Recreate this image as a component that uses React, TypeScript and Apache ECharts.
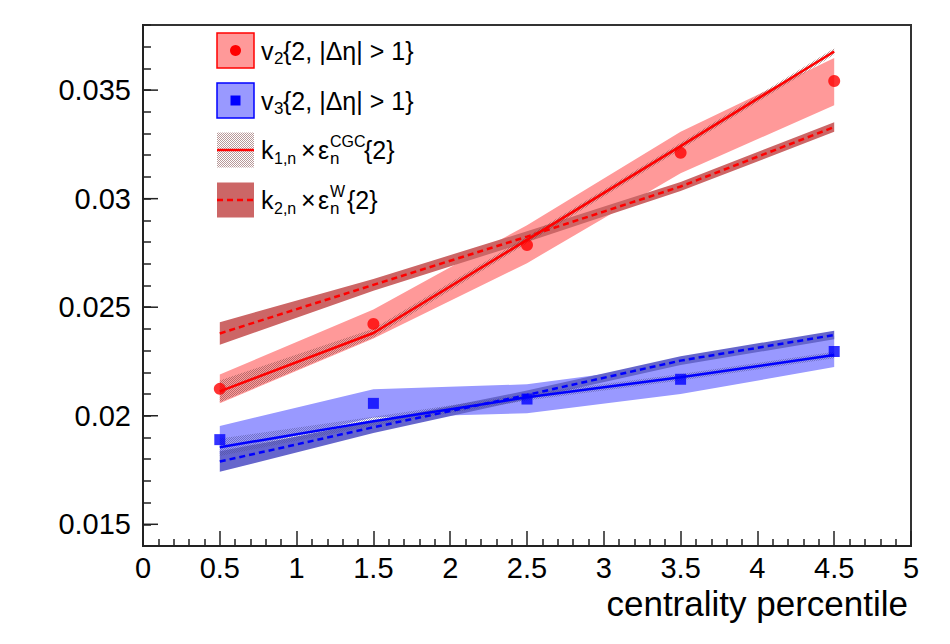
import React, { useEffect, useRef } from "react";
import * as echarts from "echarts";

// ---------- data ----------
const xs = [0.5, 1.5, 2.5, 3.5, 4.5];

// v2{2, |Δη| > 1}
const v2 = [0.02124, 0.02423, 0.02786, 0.03211, 0.03542];
const v2Low = [0.02058, 0.02356, 0.02703, 0.03117, 0.0343];
const v2High = [0.0219, 0.0249, 0.02878, 0.03308, 0.03648];
// v3{2, |Δη| > 1}
const v3 = [0.0189, 0.02057, 0.02077, 0.02168, 0.02296];
const v3Low = [0.01827, 0.01992, 0.02011, 0.021, 0.02224];
const v3High = [0.01953, 0.02122, 0.02145, 0.02238, 0.02368];

// k1,n × ε_n^CGC{2}
const cgc2 = [0.02112, 0.02381, 0.0281, 0.03242, 0.03678];
const cgc2Low = [0.02062, 0.02361, 0.02795, 0.03227, 0.03663];
const cgc2High = [0.02162, 0.02401, 0.02825, 0.03257, 0.03693];
const cgc3 = [0.01855, 0.01975, 0.02085, 0.02177, 0.0228];
const cgc3Low = [0.01815, 0.01955, 0.0207, 0.02162, 0.02265];
const cgc3High = [0.01895, 0.01995, 0.021, 0.02192, 0.02295];

// k2,n × ε_n^W{2}
const w2 = [0.02379, 0.02603, 0.02825, 0.03056, 0.0333];
const w2Low = [0.02327, 0.02576, 0.028, 0.03035, 0.03308];
const w2High = [0.02431, 0.0263, 0.0285, 0.03077, 0.03352];
const w3 = [0.01789, 0.01947, 0.02096, 0.02254, 0.02372];
const w3Low = [0.01742, 0.0192, 0.02076, 0.02234, 0.02352];
const w3High = [0.01836, 0.01974, 0.02116, 0.02274, 0.02392];

const xTickLabels = ["0", "0.5", "1", "1.5", "2", "2.5", "3", "3.5", "4", "4.5", "5"];
const yTickLabels = ["0.015", "0.02", "0.025", "0.03", "0.035"];
const yMajor = [0.015, 0.02, 0.025, 0.03, 0.035];

const FONT = '"Liberation Sans", Arial, Helvetica, sans-serif';

function makePattern(color: string) {
  const c = document.createElement("canvas");
  c.width = 2;
  c.height = 2;
  const ctx = c.getContext("2d")!;
  ctx.fillStyle = color;
  ctx.fillRect(0, 0, 1, 1);
  ctx.fillRect(1, 1, 1, 1);
  return c;
}

function bandSeries(lo: number[], hi: number[], fill: any, z: number) {
  return {
    type: "custom",
    silent: true,
    z,
    clip: true,
    data: xs.map((x, i) => [x, lo[i], hi[i]]),
    encode: { x: 0, y: [1, 2] },
    renderItem: (params: any, api: any) => {
      if (params.dataIndex !== 0) return null;
      const upper = xs.map((x, i) => api.coord([x, hi[i]]));
      const lower = xs.map((x, i) => api.coord([x, lo[i]])).reverse();
      return {
        type: "polygon",
        shape: { points: upper.concat(lower) },
        style: { fill },
      };
    },
  };
}

function lineSeries(vals: number[], color: string, dashed: boolean, z: number) {
  return {
    type: "line",
    silent: true,
    z,
    symbol: "none",
    data: xs.map((x, i) => [x, vals[i]]),
    lineStyle: { color, width: 2.5, type: dashed ? [6, 4] : "solid" },
  };
}

function txt(text: string, x: number, y: number, size: number) {
  return {
    type: "text",
    x,
    y,
    style: {
      text,
      fill: "#000",
      font: `${size}px ${FONT}`,
      align: "left",
      verticalAlign: "middle",
    },
  };
}

export default function App() {
  const ref = useRef<HTMLDivElement>(null);
  useEffect(() => {
    if (!ref.current) return;
    const chart = echarts.init(ref.current, null, { renderer: "svg" });
    const hatchRed = { image: makePattern("rgba(125,70,70,0.55)"), repeat: "repeat" };
    const hatchBlue = { image: makePattern("rgba(80,80,150,0.55)"), repeat: "repeat" };

    const legendX = 217;
    const boxW = 37;
    const boxH = 35;
    const rows = [50.5, 100.5, 150, 200];

    const graphic: any[] = [
      // legend boxes
      { type: "rect", shape: { x: legendX, y: rows[0] - boxH / 2, width: boxW, height: boxH }, style: { fill: "#ff9999", stroke: "#ff0000", lineWidth: 1.5 } },
      { type: "circle", shape: { cx: legendX + boxW / 2, cy: rows[0], r: 5.5 }, style: { fill: "#ff0000" } },
      { type: "rect", shape: { x: legendX, y: rows[1] - boxH / 2, width: boxW, height: boxH }, style: { fill: "#9999ff", stroke: "#0000ff", lineWidth: 1.5 } },
      { type: "rect", shape: { x: legendX + boxW / 2 - 5, y: rows[1] - 5, width: 10, height: 10 }, style: { fill: "#0000ff" } },
      { type: "rect", shape: { x: legendX, y: rows[2] - boxH / 2, width: boxW, height: boxH }, style: { fill: hatchRed } },
      { type: "line", shape: { x1: legendX, y1: rows[2], x2: legendX + boxW, y2: rows[2] }, style: { stroke: "#ff0000", lineWidth: 2.5 } },
      { type: "rect", shape: { x: legendX, y: rows[3] - boxH / 2, width: boxW, height: boxH }, style: { fill: "#cc6666" } },
      { type: "line", shape: { x1: legendX, y1: rows[3], x2: legendX + boxW, y2: rows[3] }, style: { stroke: "#ff0000", lineWidth: 2.5, lineDash: [6, 4] } },
      // legend texts
      txt("v", 261, rows[0], 25),
      txt("2", 274, rows[0] + 8, 17),
      txt("{2, |Δη| > 1}", 283, rows[0], 25),
      txt("v", 261, rows[1], 25),
      txt("3", 274, rows[1] + 8, 17),
      txt("{2, |Δη| > 1}", 283, rows[1], 25),
      txt("k", 261, rows[2], 25),
      txt("1,n", 274, rows[2] + 8, 16),
      txt("×", 301, rows[2], 25),
      txt("ε", 318, rows[2], 25),
      txt("n", 330, rows[2] + 8, 17),
      txt("CGC", 330, rows[2] - 9, 16),
      txt("{2}", 364, rows[2], 25),
      txt("k", 261, rows[3], 25),
      txt("2,n", 274, rows[3] + 8, 16),
      txt("×", 301, rows[3], 25),
      txt("ε", 318, rows[3], 25),
      txt("n", 330, rows[3] + 8, 17),
      txt("W", 330, rows[3] - 9, 16),
      txt("{2}", 347, rows[3], 25),
      // axis title
      {
        type: "text",
        x: 908,
        y: 603,
        style: { text: "centrality percentile", fill: "#000", font: `35px ${FONT}`, align: "right", verticalAlign: "middle" },
      },
    ];

    chart.setOption({
      animation: false,
      grid: { left: 143, right: 39, top: 25, bottom: 98, show: true, borderColor: "#333", borderWidth: 2, backgroundColor: "transparent" },
      xAxis: {
        type: "value",
        min: 0,
        max: 5,
        interval: 0.5,
        axisLine: { lineStyle: { color: "#222", width: 2 } },
        axisTick: { inside: true, length: 15, lineStyle: { color: "#222", width: 1.5 } },
        minorTick: { show: true, splitNumber: 5, length: 7, lineStyle: { color: "#222", width: 1.5 } },
        splitLine: { show: false },
        axisLabel: {
          margin: 7,
          color: "#000",
          fontSize: 29,
          fontFamily: FONT,
          formatter: (v: number) => {
            const s = String(Math.round(v * 10) / 10);
            return xTickLabels.includes(s) ? s : "";
          },
        },
      },
      yAxis: {
        type: "value",
        min: 0.014,
        max: 0.038,
        interval: 0.001,
        axisLine: { show: true, lineStyle: { color: "#222", width: 2 } },
        axisTick: { show: true, inside: true, length: 8, lineStyle: { color: "#222", width: 1.5 } },
        splitLine: { show: false },
        axisLabel: {
          margin: 12,
          color: "#000",
          fontSize: 29,
          fontFamily: FONT,
          formatter: (v: number) => {
            const s = String(Math.round(v * 1000) / 1000);
            return yTickLabels.includes(s) ? s : "";
          },
        },
      },
      graphic,
      series: [
        bandSeries(v2Low, v2High, "#ff9999", 1),
        bandSeries(v3Low, v3High, "#9999ff", 1),
        bandSeries(w2Low, w2High, "#cc6666", 2),
        bandSeries(w3Low, w3High, "#6666cc", 2),
        bandSeries(cgc2Low, cgc2High, hatchRed, 3),
        bandSeries(cgc3Low, cgc3High, hatchBlue, 3),
        lineSeries(cgc2, "#ff0000", false, 4),
        lineSeries(w2, "#ff0000", true, 4),
        lineSeries(cgc3, "#0000ff", false, 4),
        lineSeries(w3, "#0000ff", true, 4),
        {
          type: "scatter",
          silent: true,
          z: 5,
          symbol: "circle",
          symbolSize: 12,
          itemStyle: { color: "#ff0000" },
          data: xs.map((x, i) => [x, v2[i]]),
        },
        {
          type: "scatter",
          silent: true,
          z: 5,
          symbol: "rect",
          symbolSize: 11,
          itemStyle: { color: "#0000ff" },
          data: xs.map((x, i) => [x, v3[i]]),
        },
        {
          type: "custom",
          silent: true,
          z: 6,
          clip: false,
          data: yMajor.map((v) => [0, v]),
          renderItem: (params: any, api: any) => {
            const p = api.coord([0, api.value(1)]);
            return {
              type: "line",
              shape: { x1: p[0], y1: p[1], x2: p[0] + 15, y2: p[1] },
              style: { stroke: "#222", lineWidth: 1.5 },
            };
          },
        },
      ],
    });
    return () => chart.dispose();
  }, []);
  return (
    <div
      ref={ref}
      style={{ position: "absolute", left: 0, top: 0, width: 950, height: 644, background: "#fff" }}
    />
  );
}
